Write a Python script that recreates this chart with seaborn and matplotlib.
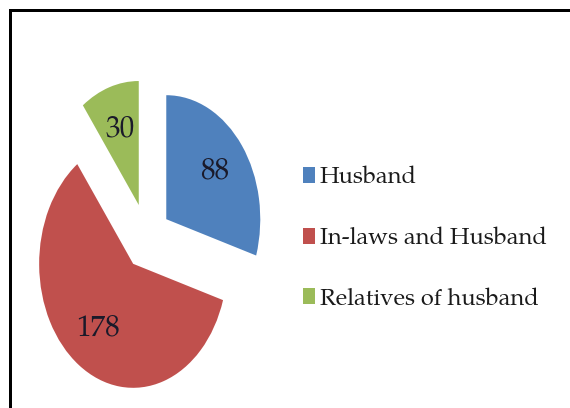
import matplotlib
matplotlib.use("Agg")
import matplotlib.pyplot as plt
from matplotlib.lines import Line2D
import seaborn as sns

# Perpetrators of the reported violence
categories = ["Husband", "In-laws and Husband", "Relatives of husband"]
counts = [88, 178, 30]
colors = ["#4F81BD", "#C0504D", "#9BBB59"]
explode = [0.255, 0.255, 0.28]

sns.set_theme(style="white")
serif = ["TeX Gyre Pagella", "Liberation Serif", "DejaVu Serif"]
plt.rcParams["font.family"] = serif

W, H = 570, 408
fig = plt.figure(figsize=(W / 100, H / 100), dpi=100)
fig.patch.set_facecolor("white")

# The pie is drawn in a stretched (non-equal aspect) axes
rx, ry = 94.0, 124.0          # pixels per data unit
cx, cy = 147.0, 238.0         # pie centre, pixels from top-left
xl, yl = 1.5, 1.5
ax = fig.add_axes([(cx - xl * rx) / W, (H - cy - yl * ry) / H,
                   2 * xl * rx / W, 2 * yl * ry / H])

total = sum(counts)
wedges, _, autotexts = ax.pie(
    counts, colors=colors, explode=explode, startangle=90, counterclock=False,
    autopct=lambda p: f"{round(p * total / 100)}", pctdistance=0.64,
    textprops=dict(fontsize=21, color="#1a1a2a"),
    wedgeprops=dict(linewidth=0),
)
ax.set_aspect("auto")
ax.set_xlim(-xl, xl)
ax.set_ylim(-yl, yl)
ax.axis("off")

fig.legend(
    wedges, categories, loc="center left", bbox_to_anchor=(303 / W, (H - 239) / H),
    frameon=False, fontsize=17, handlelength=0.5, handleheight=0.65,
    handletextpad=0.2, labelspacing=1.55, borderpad=0, borderaxespad=0,
    labelcolor="#1a1a1a",
)

# Frame lines along the top and left edges
lw = 3 * 72 / 100
fig.add_artist(Line2D([9.5 / W, 9.5 / W], [0, 1 - 9.5 / H], color="black", lw=lw,
                      solid_capstyle="projecting", transform=fig.transFigure))
fig.add_artist(Line2D([9.5 / W, 1], [1 - 9.5 / H, 1 - 9.5 / H], color="black", lw=lw,
                      solid_capstyle="projecting", transform=fig.transFigure))

fig.savefig("out.png", dpi=100)
